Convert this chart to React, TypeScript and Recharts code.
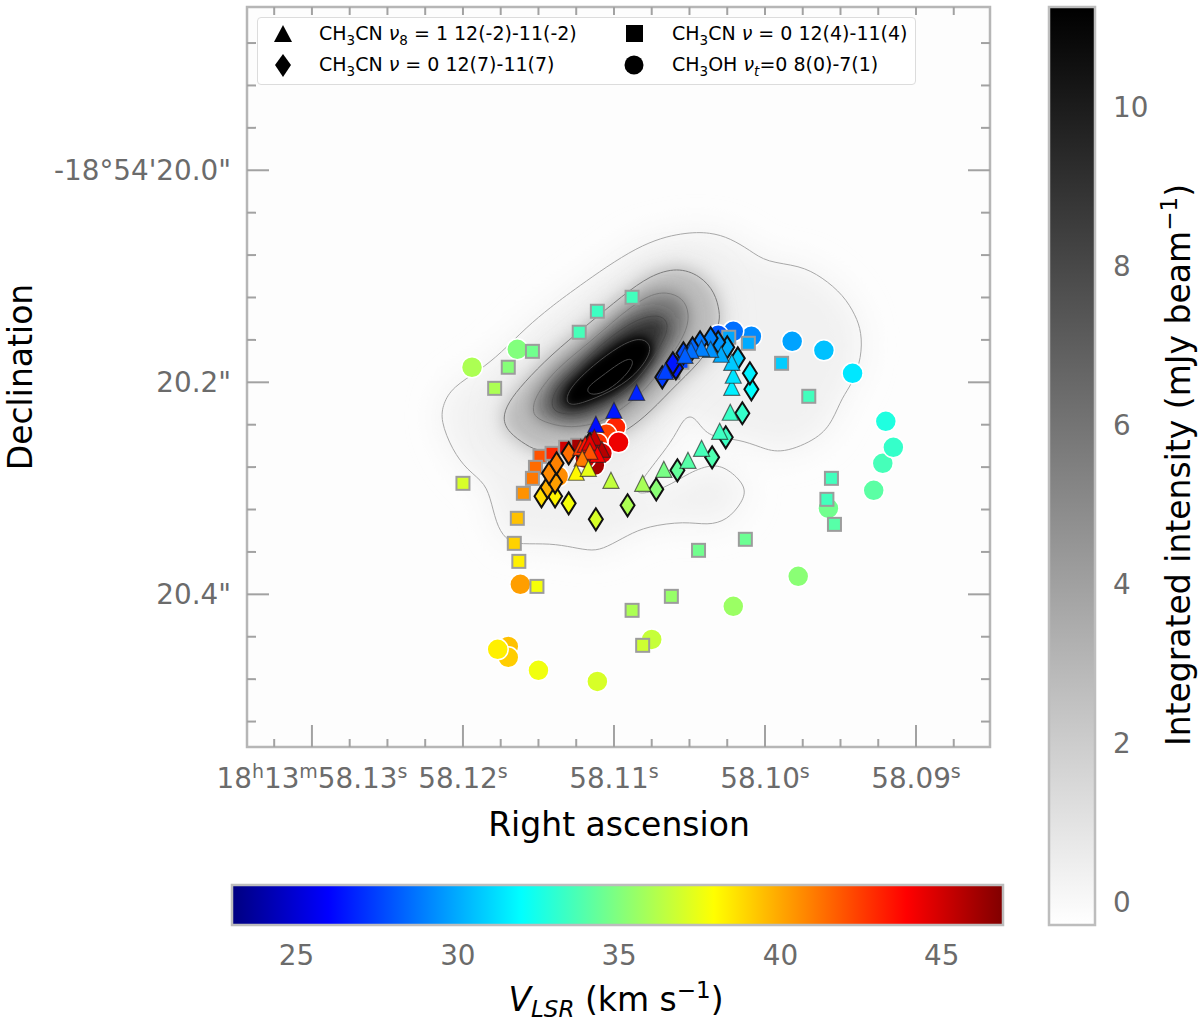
import { Legend, ReferenceArea, Scatter, ScatterChart, XAxis, YAxis } from "recharts";

// [ra seconds, dec arcsec, velocity km/s]
const circles = [
  [58.1194, 20.1858, 36], [58.1164, 20.1689, 35], [58.1162, 20.3906, 40.2], [58.1137, 20.2887, 40.6],
  [58.117, 20.4491, 39.4], [58.117, 20.4594, 39.1], [58.1177, 20.4519, 38.3], [58.115, 20.4717, 37.6],
  [58.1111, 20.4821, 37], [58.1075, 20.4425, 36.6], [58.1021, 20.4113, 35.6], [58.0978, 20.383, 35.2],
  [58.0958, 20.3189, 34.6], [58.0928, 20.3019, 34.1], [58.0922, 20.2764, 33.6], [58.0915, 20.2613, 33.2],
  [58.092, 20.2368, 32.7], [58.0942, 20.1915, 31.4], [58.0961, 20.1698, 30.5], [58.0982, 20.1613, 29.8],
  [58.1009, 20.1566, 29.2], [58.1021, 20.1519, 28.6], [58.1031, 20.1557, 28], [58.1099, 20.2425, 43.1],
  [58.1105, 20.2491, 42.4], [58.1097, 20.2566, 44.3], [58.1111, 20.2575, 42.8], [58.1108, 20.267, 44.7],
  [58.1113, 20.2783, 46], [58.1119, 20.2717, 45],
];
const squares = [
  [58.1088, 20.1198, 33.5], [58.1111, 20.133, 33.4], [58.1123, 20.1528, 33.6], [58.1154, 20.1708, 34.6],
  [58.117, 20.1858, 35.1], [58.1179, 20.2057, 36], [58.12, 20.2953, 37], [58.1149, 20.2698, 42],
  [58.1152, 20.2802, 41.4], [58.1154, 20.2906, 41.1], [58.116, 20.3047, 40.5], [58.1164, 20.3283, 39.4],
  [58.1166, 20.3519, 39], [58.1163, 20.3689, 38.3], [58.1151, 20.3925, 37.7], [58.1044, 20.3585, 34.6],
  [58.1062, 20.4019, 35.5], [58.1088, 20.4151, 36], [58.1081, 20.4481, 36.8], [58.1011, 20.1632, 30],
  [58.0989, 20.1821, 30.8], [58.0971, 20.2132, 33.5], [58.0956, 20.2906, 33.5], [58.0959, 20.3104, 33.5],
  [58.0954, 20.334, 34], [58.1013, 20.3481, 34.5], [58.1024, 20.1575, 29.9], [58.1141, 20.267, 43],
  [58.1132, 20.2613, 45], [58.1124, 20.2594, 46], [58.1055, 20.1811, 27.5], [58.1061, 20.1906, 27],
];
const diamonds = [
  [58.1015, 20.2292, 33.2], [58.1009, 20.2066, 32], [58.101, 20.1915, 31.6], [58.1018, 20.1774, 30.8],
  [58.1025, 20.167, 30], [58.1031, 20.1623, 29.4], [58.1036, 20.1585, 29], [58.1043, 20.1623, 28.8],
  [58.1048, 20.1679, 28.4], [58.1054, 20.1726, 27.8], [58.1059, 20.1868, 26.7], [58.1061, 20.1821, 26.5],
  [58.1068, 20.1953, 27.4], [58.1026, 20.2519, 33.4], [58.1035, 20.2708, 33.8], [58.1058, 20.283, 34.3],
  [58.1072, 20.3009, 35.2], [58.1091, 20.316, 36], [58.1112, 20.3292, 37], [58.113, 20.3142, 37.7],
  [58.1139, 20.3075, 38.2], [58.1148, 20.3075, 38.7], [58.1144, 20.2991, 39.8], [58.1139, 20.2943, 40.2],
  [58.1143, 20.2858, 40.7], [58.1138, 20.2764, 40.9], [58.113, 20.267, 41.3], [58.1121, 20.266, 42.5],
  [58.1116, 20.2575, 43],
];
const triangles = [
  [58.1085, 20.2104, 26.8], [58.11, 20.2274, 26.5], [58.1112, 20.2406, 26.3], [58.1113, 20.2528, 45.3],
  [58.1108, 20.2642, 45.6], [58.1122, 20.2623, 42.5], [58.1119, 20.2594, 43.5], [58.1116, 20.2575, 44.5],
  [58.1111, 20.2689, 44], [58.1116, 20.266, 42], [58.1121, 20.2726, 41], [58.1125, 20.2858, 38.1],
  [58.1117, 20.2821, 37.4], [58.1102, 20.2934, 36.5], [58.1081, 20.2962, 35.9], [58.1067, 20.283, 34.8],
  [58.1051, 20.2745, 34], [58.1042, 20.2632, 33.6], [58.103, 20.2472, 33.4], [58.1023, 20.2292, 33.3],
  [58.1022, 20.2057, 31.6], [58.1021, 20.1943, 31.3], [58.1022, 20.1821, 30.7], [58.1029, 20.1745, 30],
  [58.1036, 20.1698, 29.4], [58.1042, 20.1689, 29], [58.1049, 20.1708, 28.6], [58.1053, 20.1755, 28.2],
  [58.1066, 20.1906, 27.5],
];

// contours, [ra, dec]
const contourOuter = [
  [58.1054, 20.0585], [58.1036, 20.0585], [58.1023, 20.0642], [58.101, 20.0755], [58.0999, 20.0868],
  [58.0977, 20.0896], [58.0962, 20.1009], [58.0948, 20.1179], [58.094, 20.1368], [58.0936, 20.1528],
  [58.0936, 20.1764], [58.0942, 20.2009], [58.0949, 20.2142], [58.0955, 20.2358], [58.0964, 20.2528],
  [58.0989, 20.2679], [58.1003, 20.2613], [58.1017, 20.2538], [58.1036, 20.2519], [58.1043, 20.2406],
  [58.1048, 20.2311], [58.1054, 20.234], [58.106, 20.2519], [58.107, 20.2708], [58.1086, 20.3],
  [58.1084, 20.3066], [58.1066, 20.3], [58.105, 20.2849], [58.1034, 20.2764], [58.1023, 20.283],
  [58.1012, 20.2991], [58.1015, 20.3132], [58.1025, 20.3302], [58.1038, 20.3349], [58.1053, 20.3311],
  [58.1078, 20.3358], [58.1091, 20.3443], [58.1105, 20.3557], [58.1114, 20.3594], [58.1127, 20.3557],
  [58.1142, 20.3519], [58.1162, 20.3528], [58.117, 20.35], [58.1177, 20.3377], [58.1181, 20.3142],
  [58.1185, 20.2953], [58.1197, 20.283], [58.1207, 20.2642], [58.1215, 20.2358], [58.1213, 20.2198],
  [58.1207, 20.2047], [58.1189, 20.1887], [58.1175, 20.1726], [58.1158, 20.1481], [58.1142, 20.1292],
  [58.1127, 20.1132], [58.1083, 20.0689],
];
const contour2 = [
  [58.1174, 20.234], [58.117, 20.2189], [58.116, 20.2009], [58.1142, 20.1745], [58.1118, 20.1462],
  [58.1094, 20.1179], [58.1076, 20.0991], [58.1058, 20.0915], [58.1043, 20.0991], [58.1033, 20.1151],
  [58.103, 20.134], [58.103, 20.1443], [58.1038, 20.1745], [58.1058, 20.2009], [58.1076, 20.2283],
  [58.1091, 20.2453], [58.1107, 20.2566], [58.1127, 20.2623], [58.1149, 20.266], [58.1158, 20.2594],
  [58.117, 20.2472],
];
const contour3 = [
  [58.1154, 20.2264], [58.1152, 20.2123], [58.1138, 20.1868], [58.1116, 20.1623], [58.1096, 20.1368],
  [58.1078, 20.1179], [58.1065, 20.1142], [58.1054, 20.1208], [58.105, 20.1349], [58.1052, 20.1528],
  [58.1063, 20.1774], [58.1078, 20.2057], [58.1094, 20.2245], [58.1109, 20.2387], [58.1129, 20.2434],
  [58.1144, 20.2387], [58.1152, 20.233],
];
const contour4 = [
  [58.1142, 20.2217], [58.1139, 20.2057], [58.1125, 20.1868], [58.1107, 20.1623], [58.1089, 20.1434],
  [58.1074, 20.1358], [58.1065, 20.1396], [58.1064, 20.1528], [58.1074, 20.1774], [58.1087, 20.2028],
  [58.1107, 20.2217], [58.1125, 20.2311], [58.1138, 20.2292],
];
const contour5 = [
  [58.1132, 20.217], [58.1129, 20.2047], [58.1114, 20.184], [58.1096, 20.1651], [58.1083, 20.1575],
  [58.1076, 20.1632], [58.1076, 20.1745], [58.1087, 20.1953], [58.1103, 20.2094], [58.1121, 20.2198],
  [58.1129, 20.2217],
];
const contour6 = [
  [58.1119, 20.2057], [58.1109, 20.1953], [58.1096, 20.1811], [58.1088, 20.1764], [58.1087, 20.184],
  [58.1095, 20.1981], [58.1107, 20.2104], [58.1116, 20.2123],
];
const contours = [contourOuter, contour2, contour3, contour4, contour5, contour6];

// grey layers under the contours: which contour, fill, blur
const glowLayers: [number, string, string][] = [
  [0, "#f1f1f1", "softWide"],
  [1, "#d4d4d4", "softWide"],
  [1, "#bcbcbc", "soft"],
  [2, "#7a7a7a", "soft"],
  [3, "#303030", "soft"],
  [4, "#000000", "soft"],
  [4, "#000000", "tight"],
];

const xTicks = [
  58.1325, 58.13, 58.1275, 58.125, 58.1225, 58.12, 58.1175, 58.115, 58.1125, 58.11, 58.1075, 58.105, 58.1025, 58.1,
  58.0975, 58.095, 58.0925, 58.09, 58.0875,
];
const xMajor = [58.13, 58.12, 58.11, 58.1, 58.09];
const xLabels = ["58.13", "58.12", "58.11", "58.10", "58.09"];
const yTicks = [
  19.88, 19.92, 19.96, 20.0, 20.04, 20.08, 20.12, 20.16, 20.2, 20.24, 20.28, 20.32, 20.36, 20.4, 20.44, 20.48, 20.52,
];
const yMajor = [20.0, 20.2, 20.4];
const yLabels = ["-18°54'20.0\"", "20.2\"", "20.4\""];
const velocityTicks = [25, 30, 35, 40, 45];
const intensityTicks = [0, 2, 4, 6, 8, 10];

const RA_DOMAIN = [58.0851, 58.1343];
const DEC_DOMAIN = [19.846, 20.544];
const V_DOMAIN = [23, 46.9];
const I_DOMAIN = [-0.29, 11.26];

const FONT = "'DejaVu Sans', sans-serif";
const TICK_GREY = "#6b6b6b";
const FRAME_GREY = "#b6b6b6";
const TICK_LINE = "#a2a2a2";
const TICK_SIZE = 27.8;

const rows = (list: number[][]) => list.map(([ra, dec, v]) => ({ ra, dec, v }));

function jet(v: number) {
  const t = (v - V_DOMAIN[0]) / (V_DOMAIN[1] - V_DOMAIN[0]);
  const chan = (c: number) => Math.round(255 * Math.max(0, Math.min(1, 1.5 - Math.abs(4 * t - c))));
  return `rgb(${chan(3)},${chan(2)},${chan(1)})`;
}

const jetStops = Array.from({ length: 25 }, (_, i) => i / 24);

const XTick = ({ x, payload }: any) => {
  const i = xMajor.indexOf(payload.value);
  return (
    <g>
      <line x1={x} x2={x} y1={7} y2={15} stroke={TICK_LINE} strokeWidth={2} />
      <line x1={x} x2={x} y1={747} y2={i >= 0 ? 725 : 739} stroke={TICK_LINE} strokeWidth={2} />
      {i === 0 && (
        <text x={x} y={788} textAnchor="middle" fontSize={TICK_SIZE} fill={TICK_GREY}>
          18<tspan fontSize={19} dy={-10}>h</tspan>
          <tspan dy={10}>13</tspan>
          <tspan fontSize={19} dy={-10}>m</tspan>
          <tspan dy={10}>58.13</tspan>
          <tspan fontSize={19} dy={-10}>s</tspan>
        </text>
      )}
      {i > 0 && (
        <text x={x} y={788} textAnchor="middle" fontSize={TICK_SIZE} fill={TICK_GREY}>
          {xLabels[i]}
          <tspan fontSize={19} dy={-10}>s</tspan>
        </text>
      )}
    </g>
  );
};

const YTick = ({ y, payload }: any) => {
  const i = yMajor.indexOf(payload.value);
  return (
    <g>
      <line x1={247} x2={i >= 0 ? 269 : 256} y1={y} y2={y} stroke={TICK_LINE} strokeWidth={2} />
      <line x1={990} x2={i >= 0 ? 968 : 981} y1={y} y2={y} stroke={TICK_LINE} strokeWidth={2} />
      {i >= 0 && (
        <text x={231} y={y + 10} textAnchor="end" fontSize={TICK_SIZE} fill={TICK_GREY}>
          {yLabels[i]}
        </text>
      )}
    </g>
  );
};

const CircleMark = ({ cx, cy, payload }: any) => (
  <circle cx={cx} cy={cy} r={10.5} fill={jet(payload.v)} stroke="#fff" strokeWidth={1.5} />
);
const SquareMark = ({ cx, cy, payload }: any) => (
  <rect x={cx - 6.5} y={cy - 6.5} width={13} height={13} fill={jet(payload.v)} stroke="#9c9c9c" strokeWidth={2} />
);
const DiamondMark = ({ cx, cy, payload }: any) => (
  <path
    d={`M${cx},${cy - 11}L${cx + 7},${cy}L${cx},${cy + 11}L${cx - 7},${cy}Z`}
    fill={jet(payload.v)}
    stroke="#111"
    strokeWidth={2}
  />
);
const TriangleMark = ({ cx, cy, payload }: any) => (
  <path
    d={`M${cx},${cy - 9}L${cx + 8},${cy + 7}L${cx - 8},${cy + 7}Z`}
    fill={jet(payload.v)}
    stroke="#222"
    strokeOpacity={0.65}
    strokeWidth={1.2}
  />
);

const noMark = () => <g />;

const glowLine = (fill: string, filter: string) => (p: any) => (
  <path d={"M" + p.points.map((q: any) => `${q.x},${q.y}`).join("L") + "Z"} fill={fill} filter={`url(#${filter})`} />
);

const Ch3 = () => (
  <>
    CH<sub style={{ fontSize: 13.5, lineHeight: 0 }}>3</sub>
  </>
);

const LegendBox = () => {
  const text = (left: number, top: number, body: any) => (
    <div style={{ position: "absolute", left, top, lineHeight: "22px", whiteSpace: "nowrap" }}>{body}</div>
  );
  return (
    <div
      style={{
        position: "relative",
        width: 659,
        height: 68,
        boxSizing: "border-box",
        background: "rgba(255,255,255,0.85)",
        border: "1.5px solid #dcdcdc",
        borderRadius: 4,
        fontFamily: FONT,
        fontSize: 19,
        color: "#000",
      }}
    >
      <svg width={659} height={68} style={{ position: "absolute", left: -1, top: -1 }}>
        <path d="M26,8L35,25L17,25Z" fill="#000" />
        <path d="M26,37L34,48L26,60L18,48Z" fill="#000" />
        <rect x={369} y={8} width={17} height={17} fill="#000" />
        <circle cx={377} cy={48} r={9.5} fill="#000" />
      </svg>
      {text(61, 4, <><Ch3 />CN <i>ν</i><sub style={{ fontSize: 13.5, lineHeight: 0 }}>8</sub> = 1 12(-2)-11(-2)</>)}
      {text(61, 35, <><Ch3 />CN <i>ν</i> = 0 12(7)-11(7)</>)}
      {text(414, 4, <><Ch3 />CN <i>ν</i> = 0 12(4)-11(4)</>)}
      {text(414, 35, <><Ch3 />OH <i>ν</i><sub style={{ fontSize: 13.5, lineHeight: 0 }}><i>t</i></sub>=0 8(0)-7(1)</>)}
    </div>
  );
};

const layer = { position: "absolute", left: 0, top: 0 } as const;

export default function App() {
  return (
    <div style={{ position: "absolute", left: 0, top: 0, width: 1200, height: 1021, background: "#fff", fontFamily: FONT }}>
      <div style={layer}>
        <ScatterChart width={1200} height={1021} margin={{ top: 7, right: 210, left: 0, bottom: 0 }}>
          <defs>
            <filter id="tight" x="-40%" y="-40%" width="180%" height="180%">
              <feGaussianBlur stdDeviation="4" />
            </filter>
            <filter id="soft" x="-40%" y="-40%" width="180%" height="180%">
              <feGaussianBlur stdDeviation="8" />
            </filter>
            <filter id="softWide" x="-40%" y="-40%" width="180%" height="180%">
              <feGaussianBlur stdDeviation="16" />
            </filter>
          </defs>
          <ReferenceArea
            x1={RA_DOMAIN[1]}
            x2={RA_DOMAIN[0]}
            y1={DEC_DOMAIN[0]}
            y2={DEC_DOMAIN[1]}
            fill="#fdfdfd"
            fillOpacity={1}
            stroke="none"
            ifOverflow="visible"
          />
          <XAxis
            type="number"
            dataKey="ra"
            reversed
            domain={RA_DOMAIN}
            allowDataOverflow
            ticks={xTicks}
            interval={0}
            tick={XTick}
            tickLine={false}
            axisLine={false}
            height={274}
            label={{
              content: () => (
                <text x={619} y={836} textAnchor="middle" fontSize={33} fill="#000">
                  Right ascension
                </text>
              ),
            }}
          />
          <YAxis
            type="number"
            dataKey="dec"
            reversed
            domain={DEC_DOMAIN}
            allowDataOverflow
            ticks={yTicks}
            interval={0}
            tick={YTick}
            tickLine={false}
            axisLine={false}
            width={247}
            label={{
              content: () => (
                <text x={32} y={377} textAnchor="middle" fontSize={33} fill="#000" transform="rotate(-90 32 377)">
                  Declination
                </text>
              ),
            }}
          />
          {glowLayers.map(([c, fill, filter], i) => (
            <Scatter
              key={`glow${i}`}
              data={rows(contours[c])}
              shape={noMark}
              line={glowLine(fill, filter)}
              legendType="none"
              isAnimationActive={false}
            />
          ))}
          {contours.map((c, i) => (
            <Scatter
              key={`contour${i}`}
              data={rows(c)}
              shape={noMark}
              line={{ stroke: i === 0 ? "#a8a8a8" : i < 3 ? "#7c7c7c" : "#4a4a4a", strokeWidth: 1 }}
              lineJointType="basisClosed"
              legendType="none"
              isAnimationActive={false}
            />
          ))}
          <Scatter name="CH3OH" data={rows(circles)} shape={CircleMark} isAnimationActive={false} />
          <Scatter name="CH3CN 12(4)-11(4)" data={rows(squares)} shape={SquareMark} isAnimationActive={false} />
          <Scatter name="CH3CN 12(7)-11(7)" data={rows(diamonds)} shape={DiamondMark} isAnimationActive={false} />
          <Scatter name="CH3CN v8 12(-2)-11(-2)" data={rows(triangles)} shape={TriangleMark} isAnimationActive={false} />
          <ReferenceArea
            x1={RA_DOMAIN[1]}
            x2={RA_DOMAIN[0]}
            y1={DEC_DOMAIN[0]}
            y2={DEC_DOMAIN[1]}
            fill="none"
            stroke={FRAME_GREY}
            strokeWidth={2.5}
            ifOverflow="visible"
          />
          <Legend
            verticalAlign="middle"
            content={LegendBox}
            wrapperStyle={{ left: 257, top: 17, width: 659, height: 68, margin: 0 }}
          />
        </ScatterChart>
      </div>

      {/* velocity colour bar */}
      <div style={layer}>
        <ScatterChart width={1200} height={1021} margin={{ top: 885, right: 197, left: 232, bottom: 0 }}>
          <defs>
            <linearGradient id="jetGrad" x1="0" y1="0" x2="1" y2="0">
              {jetStops.map((t) => (
                <stop key={t} offset={t} stopColor={jet(V_DOMAIN[0] + t * (V_DOMAIN[1] - V_DOMAIN[0]))} />
              ))}
            </linearGradient>
          </defs>
          <XAxis
            type="number"
            dataKey="v"
            domain={V_DOMAIN}
            allowDataOverflow
            ticks={velocityTicks}
            interval={0}
            height={96}
            tickLine={false}
            axisLine={false}
            tick={({ x, payload }: any) => (
              <text x={x} y={965} textAnchor="middle" fontSize={TICK_SIZE} fill={TICK_GREY}>
                {payload.value}
              </text>
            )}
            label={{
              content: () => (
                <text x={616} y={1011} textAnchor="middle" fontSize={33} fill="#000">
                  <tspan fontStyle="italic">V</tspan>
                  <tspan fontStyle="italic" fontSize={23} dy={6}>LSR</tspan>
                  <tspan dy={-6}> (km s</tspan>
                  <tspan fontSize={23} dy={-13}>−1</tspan>
                  <tspan dy={13}>)</tspan>
                </text>
              ),
            }}
          />
          <YAxis type="number" dataKey="y" hide domain={[0, 1]} allowDataOverflow />
          <Scatter
            data={velocityTicks.map((v) => ({ v, y: 0 }))}
            shape={noMark}
            legendType="none"
            isAnimationActive={false}
          />
          <ReferenceArea
            x1={V_DOMAIN[0]}
            x2={V_DOMAIN[1]}
            y1={0}
            y2={1}
            fill="url(#jetGrad)"
            fillOpacity={1}
            stroke="#bdbdbd"
            strokeWidth={2.5}
            ifOverflow="visible"
          />
        </ScatterChart>
      </div>

      {/* intensity colour bar */}
      <div style={layer}>
        <ScatterChart width={1200} height={1021} margin={{ top: 7, right: 0, left: 1049, bottom: 96 }}>
          <defs>
            <linearGradient id="greyGrad" x1="0" y1="0" x2="0" y2="1">
              <stop offset="0" stopColor="#000" />
              <stop offset="1" stopColor="#fff" />
            </linearGradient>
          </defs>
          <XAxis type="number" dataKey="x" hide domain={[0, 1]} allowDataOverflow />
          <YAxis
            type="number"
            dataKey="i"
            orientation="right"
            domain={I_DOMAIN}
            allowDataOverflow
            ticks={intensityTicks}
            interval={0}
            width={105}
            tickLine={false}
            axisLine={false}
            tick={({ y, payload }: any) => (
              <text x={1113} y={y + 10} textAnchor="start" fontSize={TICK_SIZE} fill={TICK_GREY}>
                {payload.value}
              </text>
            )}
            label={{
              content: () => (
                <text x={1190} y={465} textAnchor="middle" fontSize={33} fill="#000" transform="rotate(-90 1190 465)">
                  Integrated intensity (mJy beam
                  <tspan fontSize={23} dy={-13}>−1</tspan>
                  <tspan dy={13}>)</tspan>
                </text>
              ),
            }}
          />
          <Scatter
            data={intensityTicks.map((i) => ({ i, x: 0 }))}
            shape={noMark}
            legendType="none"
            isAnimationActive={false}
          />
          <ReferenceArea
            x1={0}
            x2={1}
            y1={I_DOMAIN[0]}
            y2={I_DOMAIN[1]}
            fill="url(#greyGrad)"
            fillOpacity={1}
            stroke="#bdbdbd"
            strokeWidth={2.5}
            ifOverflow="visible"
          />
        </ScatterChart>
      </div>
    </div>
  );
}
